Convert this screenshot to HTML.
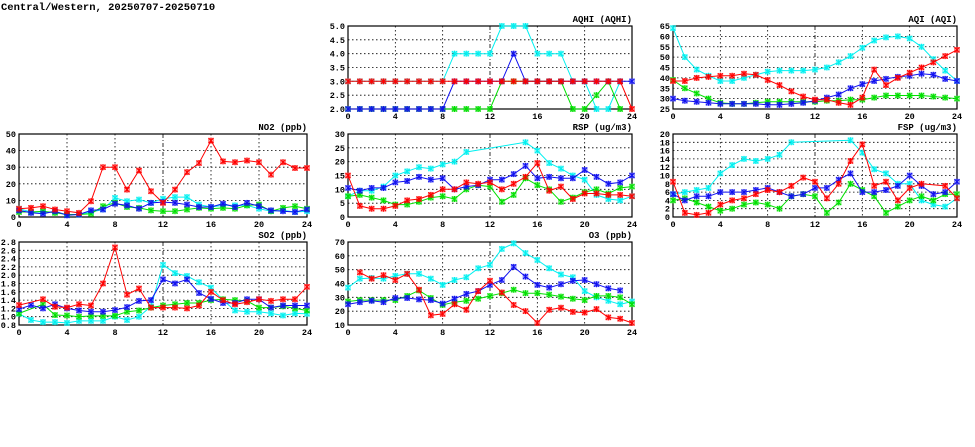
<!DOCTYPE html>
<html><head><meta charset="utf-8"><style>
html,body{margin:0;padding:0;background:#fff;width:975px;height:447px;overflow:hidden}
svg text{font-family:"Liberation Mono",monospace;font-weight:bold;fill:#000}
</style></head><body>
<svg id="root" width="975" height="447" viewBox="0 0 975 447" xmlns="http://www.w3.org/2000/svg">
<text x="1" y="10" font-size="10.5">Central/Western, 20250707-20250710</text>
</svg>
<script>
const hours = [0,1,2,3,4,5,6,7,8,9,10,11,12,13,14,15,16,17,18,19,20,21,22,23,24];
const xTicks = [0,4,8,12,16,20,24];
const N = null;

const aqhiRed   = [3,3,3,3,3,3,3,3,3,3,3,3,3,3,3,3,3,3,3,3,3,3,3,3,2];
const aqhiBlue  = [2,2,2,2,2,2,2,2,2,3,3,3,3,3,4,3,3,3,3,3,3,3,3,3,3];
const aqhiGreen = [2,2,2,2,2,2,2,2,2,2,2,2,2,3,3,3,3,3,3,2,2,2.5,3,2,N];
const aqhiCyan  = [3,3,3,3,3,3,3,3,3,4,4,4,4,5,5,5,4,4,4,3,3,2,2,3,N];
const aqhiTicks = [2.0,2.5,3.0,3.5,4.0,4.5,5.0];

const aqiCyan  = [64,50,44,41,38.5,38.5,40,41.5,43,43.5,43.5,43.5,44,45,47.5,50.5,54.5,58,59.5,60,59,55,49,43.5,38.5];
const aqiRed   = [38.5,38.5,40,40.5,41,41,42,41.5,39,36.5,33.5,31,29.5,29.5,28,27,30.5,44,36.5,40,42.5,45,47.5,50.5,53.5];
const aqiBlue  = [30,29,28.5,28,27.5,27.5,27.5,27.5,27,27,27.5,28,29,30.5,32,35,37,38.5,39.5,40.5,41,42,41.5,39.5,38.5];
const aqiGreen = [39,35,32.5,30,28,27.5,27.5,28,28.5,28.5,28.5,28.5,28.5,29,29,29.5,29.5,30.5,31.5,31.5,31.5,31.5,31,30.5,30];
const aqiTicks = [25,30,35,40,45,50,55,60,65];

const no2Red   = [5,5.5,6.5,4.5,3.5,2.5,9.5,30,30,16.5,28,15.5,8.5,16.5,27,32.5,46,33.5,33,34,33,25.5,33,29.5,29.5];
const no2Cyan  = [5,3,3,3,1.5,1.5,3,4.5,11.5,9.5,10.5,8.5,11,12,12,7.5,6,7,7,7,5,3.5,4,3,3.5];
const no2Blue  = [4,2.5,2,3.5,1,1.5,4,4.5,8,7,5,8.5,9,8.5,7.5,6,6,8,6,8.5,6.5,4,3.5,3,4.5];
const no2Green = [3,3,3.5,2.5,1.5,1.5,2,6.5,8.5,6,5.5,4,3.5,3.5,4.5,5.5,5,5.5,5,7,7.5,3.5,5.5,6.5,5];
const no2Ticks = [0,10,20,30,40,50];

const rspCyan  = [7.5,9.5,9.5,11,15,16.5,18,17.5,19,20,23.5,N,N,N,N,27,24,19.5,17.5,15,13.5,8,6.5,6,7.5];
const rspBlue  = [10.5,9.5,10.5,10.5,12.5,13,14.5,13.5,14,10,11,11.5,13.5,13.5,15.5,18.5,14,14.5,14,14,17,14.5,12,12.5,15];
const rspRed   = [15,4,3,3,4,6,6.5,8,10,10,12.5,12,12.5,10,12,14.5,19.5,9.5,11,6.5,8.5,8.5,8,8,7.5];
const rspGreen = [7.5,8,7,6,4.5,4.5,5.5,7,7.5,6.5,10,11.5,11,5.5,8,14,11.5,10,5.5,7,9,10,8.5,10.5,11];
const rspTicks = [0,5,10,15,20,25,30];

const fspCyan  = [5.5,6,6.5,7,10.5,12.5,14,13.5,14,15,18,N,N,N,N,18.5,15.5,11.5,10.5,8,8,4,3,2.5,4.5];
const fspRed   = [8.5,1,0.5,1,3,4,4.5,5.5,6.5,6,7.5,9.5,8.5,4.5,8,13.5,17.5,7.5,8.5,4,7,8,N,7.5,4.5];
const fspBlue  = [5.5,4,5,5,6,6,6,6.5,7,6,5,5.5,7,7,9,10.5,6,6,6.5,7.5,10,7.5,5.5,6,8.5];
const fspGreen = [4,4.5,3.5,2.5,1.5,2,3,3.5,3,2,5,5.5,5,1,3.5,8,6.5,5,1,2.5,4,5,4,5.5,5.5];
const fspTicks = [0,2,4,6,8,10,12,14,16,18,20];

const so2Red   = [1.28,N,1.42,1.24,1.22,1.3,1.27,1.8,2.67,1.53,1.68,1.22,1.22,1.22,1.2,1.27,1.6,1.4,1.3,1.35,1.42,1.38,1.42,1.42,1.72];
const so2Blue  = [1.18,1.28,1.2,1.3,1.2,1.15,1.12,1.12,1.16,1.23,1.38,1.4,1.9,1.8,1.9,1.57,1.43,1.33,1.33,1.42,1.42,1.22,1.27,1.27,1.27];
const so2Green = [1.08,N,1.3,1.04,1.03,1.0,1.02,1.02,1.02,1.12,1.15,1.22,1.27,1.3,1.33,1.33,1.4,1.42,1.4,1.38,1.22,1.22,1.25,1.2,1.15];
const so2Cyan  = [1.07,0.92,0.87,0.87,0.85,0.9,0.9,0.9,1.0,0.92,1.0,1.25,2.25,2.05,1.98,1.83,1.7,1.4,1.15,1.12,1.12,1.08,1.03,1.08,1.07];
const so2Ticks = [0.8,1.0,1.2,1.4,1.6,1.8,2.0,2.2,2.4,2.6,2.8];

const o3Cyan  = [37,43.5,44,43.5,45.5,47,47,43.5,39,42.5,44.5,51,53.5,65,69,62,57,51,46.5,44.5,34.5,30,27.5,25,27];
const o3Blue  = [25,26.5,27.5,26.5,29.5,29.5,28.5,28,25.5,29,32.5,34.5,39,42.5,52,45,39,37,39.5,42,42.5,39.5,36.5,35,N];
const o3Red   = [N,48,43.5,46,42.5,47,35.5,17,18,25,21,34.5,42,33.5,24.5,20,11.5,21,22.5,19.5,19,21.5,15.5,14.5,11.5];
const o3Green = [27,28,28,28,28,31,35,29.5,24.5,26.5,27.5,29,31,33,35.5,33,33,32,30.5,29,28,31,31,30,25];
const o3Ticks = [10,20,30,40,50,60,70];

const RED='#ff0000', BLUE='#1010f0', GREEN='#00e000', CYAN='#00f0f0';
const NS='http://www.w3.org/2000/svg';
const root=document.getElementById('root');
function mk(tag,attrs,parent){const e=document.createElementNS(NS,tag);for(const k in attrs)e.setAttribute(k,attrs[k]);(parent||root).appendChild(e);return e;}

function chart(name,title,L,T,W,H,ticks,fmt,series){
  const g=mk('g',{});
  
  
  const ymin=ticks[0], ymax=ticks[ticks.length-1];
  const xs=v=>L+v/24*W;
  const ys=v=>T+H-(v-ymin)/(ymax-ymin)*H;
  ticks.forEach((t,i)=>{
    if(i>0&&i<ticks.length-1){
      const l=mk('line',{x1:L,x2:L+W,y1:ys(t),y2:ys(t),stroke:'#000','stroke-width':0.8,'stroke-dasharray':'1.5,2.5'},g);
      
      
    }
    const tx=mk('text',{x:L-3,y:ys(t)+3,'font-size':8.5,'text-anchor':'end'},g);
    tx.textContent=fmt(t);
    
    
  });
  xTicks.forEach((t,i)=>{
    if(i>0&&i<xTicks.length-1){
      const l=mk('line',{x1:xs(t),x2:xs(t),y1:T,y2:T+H,stroke:'#000','stroke-width':0.8,'stroke-dasharray':t===12?'4,2,1,2':'1.5,2.5'},g);
      
      
    }
    const tx=mk('text',{x:xs(t),y:T+H+10,'font-size':8.5,'text-anchor':'middle'},g);
    tx.textContent=String(t);
    
    
  });
  const fr=mk('rect',{x:L,y:T,width:W,height:H,fill:'none',stroke:'#000','stroke-width':1.2},g);
  
  
  const tt=mk('text',{x:L+W,y:T-4,'font-size':9,'text-anchor':'end'},g);
  tt.textContent=title;
  
  
  series.forEach(([vals,col,sname])=>{
    const pts=[];
    vals.forEach((v,i)=>{if(v!==null)pts.push(xs(hours[i]).toFixed(1)+','+ys(v).toFixed(1));});
    const pl=mk('polyline',{points:pts.join(' '),fill:'none',stroke:col,'stroke-width':1.0},g);
    
    
    vals.forEach((v,i)=>{
      if(v===null)return;
      const x=xs(hours[i]),y=ys(v);
      const m=mk('g',{},g);
      
      
      mk('rect',{x:x-2.5,y:y-2.5,width:5,height:5,fill:col,'fill-opacity':0.35,stroke:col,'stroke-opacity':0.5,'stroke-width':0.7},m);
      mk('path',{d:`M${x-2.5},${y-2.5}L${x+2.5},${y+2.5}M${x+2.5},${y-2.5}L${x-2.5},${y+2.5}M${x},${y-3}L${x},${y+3}`,stroke:col,'stroke-width':1.0},m);
    });
  });
}
const f1=v=>v.toFixed(1), f0=v=>String(v);
chart('aqhi','AQHI (AQHI)',348,26,284,83,aqhiTicks,f1,[[aqhiCyan,CYAN,'cyan'],[aqhiGreen,GREEN,'green'],[aqhiBlue,BLUE,'blue'],[aqhiRed,RED,'red']]);
chart('aqi','AQI (AQI)',673,26,284,83,aqiTicks,f0,[[aqiCyan,CYAN,'cyan'],[aqiGreen,GREEN,'green'],[aqiBlue,BLUE,'blue'],[aqiRed,RED,'red']]);
chart('no2','NO2 (ppb)',19,134,288,83,no2Ticks,f0,[[no2Cyan,CYAN,'cyan'],[no2Green,GREEN,'green'],[no2Blue,BLUE,'blue'],[no2Red,RED,'red']]);
chart('rsp','RSP (ug/m3)',348,134,284,83,rspTicks,f0,[[rspCyan,CYAN,'cyan'],[rspGreen,GREEN,'green'],[rspBlue,BLUE,'blue'],[rspRed,RED,'red']]);
chart('fsp','FSP (ug/m3)',673,134,284,83,fspTicks,f0,[[fspCyan,CYAN,'cyan'],[fspGreen,GREEN,'green'],[fspBlue,BLUE,'blue'],[fspRed,RED,'red']]);
chart('so2','SO2 (ppb)',19,242,288,83,so2Ticks,f1,[[so2Cyan,CYAN,'cyan'],[so2Green,GREEN,'green'],[so2Blue,BLUE,'blue'],[so2Red,RED,'red']]);
chart('o3','O3 (ppb)',348,242,284,83,o3Ticks,f0,[[o3Cyan,CYAN,'cyan'],[o3Green,GREEN,'green'],[o3Blue,BLUE,'blue'],[o3Red,RED,'red']]);
</script>
</body></html>
